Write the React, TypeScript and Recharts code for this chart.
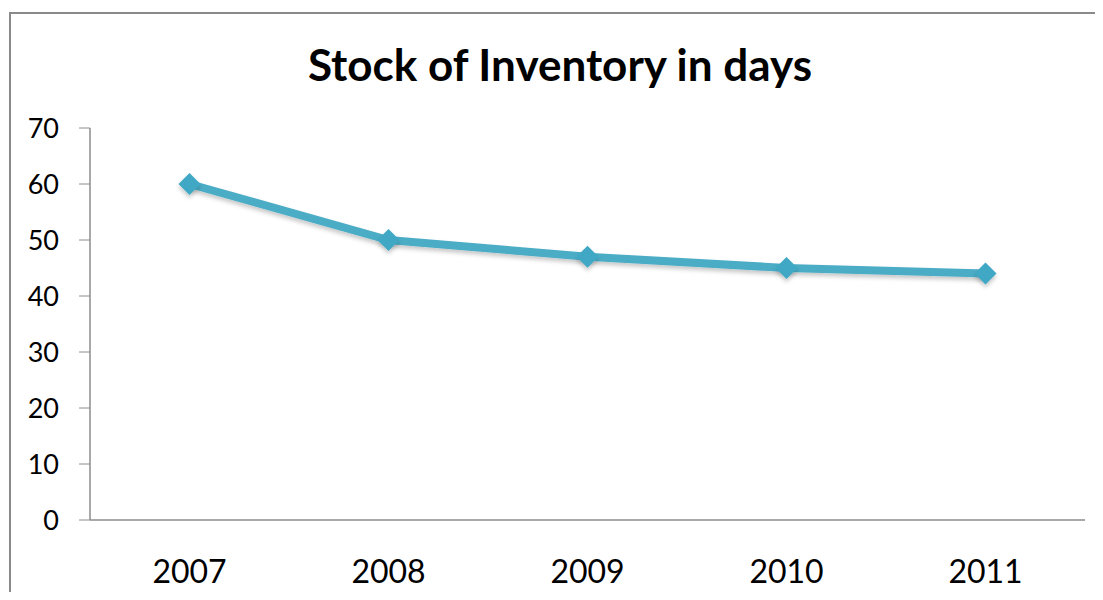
import React from 'react';
import { LineChart, Line, XAxis, YAxis } from 'recharts';

const years = ['2007', '2008', '2009', '2010', '2011'];
const daysOfStock = [60, 50, 47, 45, 44];
const yTicks = [0, 10, 20, 30, 40, 50, 60, 70];
const boundaryTicks = [0, 1, 2, 3, 4, 5];

const data = years.map((year, i) => ({ year, days: daysOfStock[i], pos: i + 0.5 }));

const FONT = 'Lato, "Open Sans", "Noto Sans", sans-serif';
const LINE = '#4BACC6';
const AXIS = '#8c8c8c';

function Diamond(props: any) {
  const { cx, cy } = props;
  if (cx == null || cy == null) return null;
  const r = 11;
  return (
    <path
      d={`M${cx},${cy - r} L${cx + r},${cy} L${cx},${cy + r} L${cx - r},${cy} Z`}
      fill="#3FA8C4"
      filter="url(#soft)"
    />
  );
}

export default function App() {
  return (
    <div style={{ position: 'relative', width: 1103, height: 600, margin: -8, overflow: 'hidden', background: '#fff' }}>
      <div
        style={{
          position: 'absolute',
          left: 9,
          top: 12,
          width: 1110,
          height: 620,
          border: '2px solid #8a8a8a',
          boxSizing: 'border-box',
        }}
      />
      <div
        style={{
          position: 'absolute',
          top: 38,
          left: 0,
          width: 1120,
          textAlign: 'center',
          fontFamily: FONT,
          fontWeight: 700,
          fontSize: 44,
          lineHeight: 1.2,
          color: '#000',
        }}
      >
        Stock of Inventory in days
      </div>
      <div style={{ position: 'absolute', left: 0, top: 0 }}>
        <LineChart width={1103} height={600} data={data} margin={{ top: 128, right: 18, left: 30, bottom: 30 }}>
          <defs>
            <filter id="soft" x="-50%" y="-50%" width="200%" height="200%">
              <feDropShadow dx="0" dy="3" stdDeviation="2" floodColor="#000" floodOpacity="0.22" />
            </filter>
          </defs>
          <XAxis
            xAxisId="bounds"
            type="number"
            dataKey="pos"
            domain={[0, 5]}
            ticks={boundaryTicks}
            tick={false}
            axisLine={false}
            tickLine={{ stroke: AXIS, strokeWidth: 1 }}
            tickSize={12}
            height={0}
          />
          <XAxis
            dataKey="year"
            scale="band"
            axisLine={{ stroke: AXIS, strokeWidth: 1.5 }}
            tickLine={false}
            tickMargin={34}
            tick={{ fill: '#000', fontSize: 32, fontFamily: FONT }}
            height={50}
          />
          <YAxis
            domain={[0, 70]}
            ticks={yTicks}
            width={60}
            axisLine={{ stroke: AXIS, strokeWidth: 1.5 }}
            tickLine={{ stroke: AXIS, strokeWidth: 1 }}
            tickSize={11}
            tickMargin={20}
            tick={{ fill: '#000', fontSize: 27, fontFamily: FONT }}
          />
          <Line
            type="linear"
            dataKey="days"
            stroke={LINE}
            strokeWidth={8}
            filter="url(#soft)"
            dot={<Diamond />}
            activeDot={false}
            isAnimationActive={false}
          />
        </LineChart>
      </div>
    </div>
  );
}
